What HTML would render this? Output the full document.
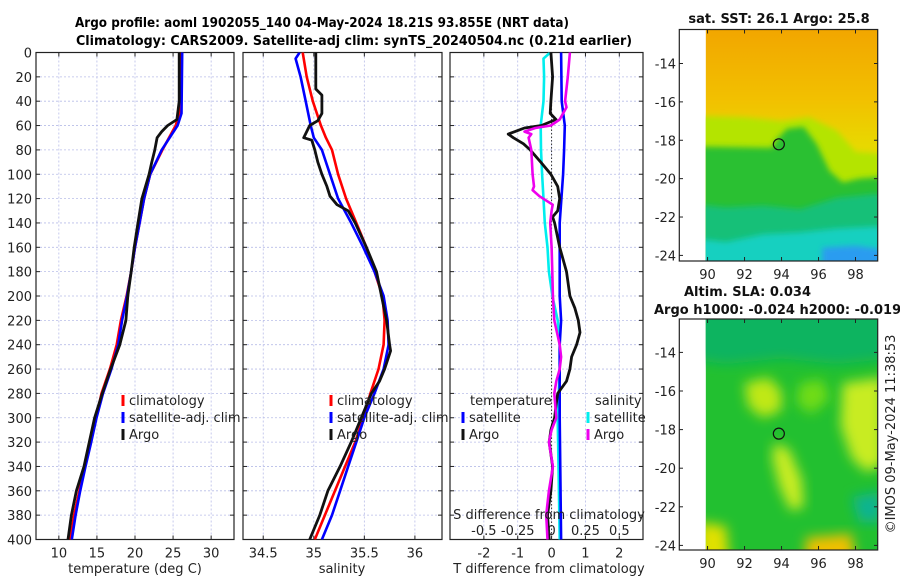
<!DOCTYPE html>
<html><head><meta charset="utf-8">
<style>
html,body{margin:0;padding:0;background:#fff;}
svg{display:block;font-family:"DejaVu Sans","Liberation Sans",sans-serif;}
</style></head>
<body>
<svg id="fig" width="900" height="580" viewBox="0 0 900 580" xmlns="http://www.w3.org/2000/svg">
<defs>
<clipPath id="c1"><rect x="36" y="52.5" width="198" height="487"/></clipPath>
<clipPath id="c2"><rect x="243" y="52.5" width="199" height="487"/></clipPath>
<clipPath id="c3"><rect x="450" y="52.5" width="193" height="487"/></clipPath>
<clipPath id="cm1"><rect x="705.7" y="29.5" width="172" height="231.5"/></clipPath>
<clipPath id="cm2"><rect x="705.7" y="319" width="172" height="231"/></clipPath>
<filter id="bl" x="-20%" y="-20%" width="140%" height="140%"><feGaussianBlur stdDeviation="3"/></filter>
<filter id="bl2" x="-30%" y="-30%" width="160%" height="160%"><feGaussianBlur stdDeviation="6"/></filter>
<linearGradient id="sstg" x1="0" y1="0" x2="0" y2="1">
<stop offset="0" stop-color="#f2a600"/><stop offset="0.3" stop-color="#f2c000"/><stop offset="0.5" stop-color="#e8d800"/><stop offset="1" stop-color="#e0e000"/>
</linearGradient>
</defs>
<g id="titles">
<text x="322" y="27" text-anchor="middle" font-weight="bold" font-size="13" textLength="494" lengthAdjust="spacingAndGlyphs">Argo profile: aoml 1902055_140 04-May-2024 18.21S 93.855E (NRT data)</text>
<text x="354" y="45" text-anchor="middle" font-weight="bold" font-size="13" textLength="556" lengthAdjust="spacingAndGlyphs">Climatology: CARS2009. Satellite-adj clim: synTS_20240504.nc (0.21d earlier)</text>
</g>
<g id="p1"></g><g id="p2"></g><g id="p3"></g>
<g id="maps"></g>
</svg>
<script>
const NS="http://www.w3.org/2000/svg";
// ---- data ----
const depthsT=[0,50,60,80,100,120,140,160,180,200,220,240,260,280,300,320,340,360,380,400];
const tempClim=[25.9,25.8,25.35,23.6,22.0,21.2,20.6,20.0,19.5,18.9,18.15,17.6,16.7,15.6,14.9,14.2,13.45,12.7,12.0,11.5];
const tempSat=[26.2,26.1,25.6,23.5,22.0,21.2,20.6,20.0,19.5,18.95,18.3,17.8,16.9,15.8,14.95,14.25,13.5,12.8,12.2,11.7];
const depthsArgoT=[0,40,55,60,65,70,80,90,100,120,140,160,180,200,220,240,260,280,300,320,340,360,380,400];
const tempArgo=[25.8,25.8,25.5,24.3,23.5,22.9,22.6,22.2,21.85,20.9,20.4,19.9,19.5,19.05,18.8,18.0,16.8,15.7,14.7,14.0,13.3,12.3,11.65,11.2];
const depthsS=[0,5,20,40,60,70,80,100,120,140,160,180,200,220,240,260,280,300,320,340,360,380,400];
const salClim=[34.89,34.9,34.93,34.99,35.07,35.12,35.18,35.24,35.32,35.42,35.52,35.6,35.68,35.7,35.69,35.64,35.56,35.49,35.41,35.31,35.21,35.11,35.01];
const salSat=[34.86,34.82,34.87,34.92,34.97,35.0,35.08,35.16,35.24,35.37,35.49,35.6,35.69,35.73,35.74,35.69,35.6,35.5,35.42,35.34,35.26,35.18,35.08];
const depthsArgoS=[0,30,35,50,56,60,65,70,72,80,90,100,110,118,125,130,140,160,180,200,220,240,245,260,270,280,300,320,340,360,380,400];
const salArgo=[35.02,35.02,35.08,35.08,35.04,34.96,34.93,34.9,34.98,35.01,35.04,35.08,35.13,35.16,35.23,35.34,35.41,35.52,35.62,35.67,35.72,35.75,35.76,35.7,35.65,35.57,35.47,35.37,35.26,35.14,35.06,34.96];
const depthsDT=[0,20,40,50,55,60,62,65,67,70,75,80,90,100,110,120,130,135,140,160,180,200,210,220,230,240,250,260,270,280,290,300,310,320,340,360,380,400];
const dTArgo=[-0.02,0.03,-0.02,-0.04,0.13,-0.3,-0.8,-1.08,-1.28,-1.13,-0.83,-0.63,-0.32,-0.02,0.18,0.24,0.18,0.03,0.09,0.24,0.44,0.54,0.69,0.79,0.84,0.74,0.59,0.54,0.44,0.18,0.13,0.09,-0.02,-0.07,0.03,-0.02,-0.12,-0.07];
const depthsDTs=[0,40,60,80,100,140,200,220,240,300,400];
const dTSat=[0.28,0.3,0.39,0.37,0.34,0.24,0.24,0.28,0.24,0.24,0.28];
const depthsDS=[0,5,20,40,60,80,100,120,140,160,180,200,220,240,260,300,400];
const dSSat=[-0.01,-0.06,-0.055,-0.06,-0.08,-0.078,-0.07,-0.06,-0.05,-0.03,-0.02,0.006,0.045,0.06,0.06,0.045,0.06];
const depthsDSA=[0,20,40,45,55,60,62,65,67,70,80,100,110,113,118,125,130,140,160,180,200,220,240,250,260,270,280,300,310,320,340,360,380,400];
const dSArgo=[0.135,0.12,0.1,0.11,0.06,-0.005,-0.12,-0.2,-0.15,-0.17,-0.15,-0.14,-0.13,-0.14,-0.09,0.008,0.0,-0.01,0.0,0.005,0.01,0.02,0.06,0.07,0.06,0.035,0.02,0.035,0.0,-0.02,0.01,-0.02,-0.04,-0.03];
const depthTicks=[0,20,40,60,80,100,120,140,160,180,200,220,240,260,280,300,320,340,360,380,400];
const tempTicks=[10,15,20,25,30];
const salTicks=[34.5,35,35.5,36];
const dTTicks=[-2,-1,0,1,2];
const dSTicks=[-0.5,-0.25,0,0.25,0.5];
const dSTickLabels=["-0.5","-0.25","0","0.25","0.5"];
const lonTicks=[90,92,94,96,98];
const latTicks=[-14,-16,-18,-20,-22,-24];
const argoLon=[93.855];
const argoLat=[-18.21];
// ---- scales ----
const Y0=52.5,Y1=539.5;
const yD=d=>Y0+(d/400)*(Y1-Y0);
const lin=(d0,d1,r0,r1)=>v=>r0+(v-d0)/(d1-d0)*(r1-r0);
const xT=lin(7,33,36,234);
const xS=lin(34.3,36.268,243,442);
const xdT=lin(-3,2.7,450,643);
const xdS=v=>xdT(0)+v*4*(xdT(1)-xdT(0));
const mapX=lin(89.9,99.2,705.7,877.7);
const mapY1=lin(-14,-24,63.5,255.4);
const mapY2=lin(-14,-24,352.4,545.4);
function el(tag,attrs,parent){const e=document.createElementNS(NS,tag);for(const k in attrs)e.setAttribute(k,attrs[k]);if(parent)parent.appendChild(e);return e;}
function txt(parent,x,y,s,anchor,size){const t=el('text',{x:x,y:y,'text-anchor':anchor||'middle','font-size':size||13,fill:'#222'},parent);t.textContent=s;return t;}
function line(parent,xs,ds,xf,color,w,clip,name){
  const p=xs.map((v,i)=>(i?'L':'M')+xf(v).toFixed(1)+','+yD(ds[i]).toFixed(1)).join('');
  const e=el('path',{d:p,fill:'none',stroke:color,'stroke-width':w||2.6,'stroke-linejoin':'round','clip-path':'url(#'+clip+')'},parent);
  
  
}
function frame(g,x0,x1,xticks,xf,xlabels,showY,name){
  
  
  xticks.forEach(v=>{el('line',{x1:xf(v),x2:xf(v),y1:Y0,y2:Y1,stroke:'#b8bde8','stroke-width':0.8,'stroke-dasharray':'2,2'},g);});
  depthTicks.forEach(d=>{el('line',{x1:x0,x2:x1,y1:yD(d),y2:yD(d),stroke:'#b8bde8','stroke-width':0.8,'stroke-dasharray':'2,2'},g);
    el('line',{x1:x0,x2:x0+4,y1:yD(d),y2:yD(d),stroke:'#222'},g);el('line',{x1:x1-4,x2:x1,y1:yD(d),y2:yD(d),stroke:'#222'},g);
    if(showY){const t=txt(g,x0-4,yD(d)+5,String(d),'end');}});
  xticks.forEach((v,i)=>{el('line',{x1:xf(v),x2:xf(v),y1:Y1,y2:Y1-4,stroke:'#222'},g);el('line',{x1:xf(v),x2:xf(v),y1:Y0,y2:Y0+4,stroke:'#222'},g);
    if(xlabels){const t=txt(g,xf(v),Y1+18,xlabels[i]);}});
  el('rect',{x:x0,y:Y0,width:x1-x0,height:Y1-Y0,fill:'none',stroke:'#222','stroke-width':1.2},g);
}
function legendItem(g,x,y,color,label,name){
  const m=el('rect',{x:x-1.5,y:y-9,width:3,height:11,fill:color},g);
  
  
  const t=txt(g,x+6,y+1,label,'start');
  
  
}
// panel 1
const g1=document.getElementById('p1');
frame(g1,36,234,tempTicks,xT,tempTicks.map(String),true,'temperature-panel');
line(g1,tempClim,depthsT,xT,'#ff0000',2.6,'c1','temp-climatology-line');
line(g1,tempSat,depthsT,xT,'#0000ff',2.6,'c1','temp-satellite-line');
line(g1,tempArgo,depthsArgoT,xT,'#111',2.8,'c1','temp-argo-line');
{const t=txt(g1,135,573,'temperature (deg C)');}
legendItem(g1,123,404,'#ff0000','climatology','legend-climatology');
legendItem(g1,123,421,'#0000ff','satellite-adj. clim','legend-satellite-adj');
legendItem(g1,123,438,'#111','Argo','legend-argo');
// panel 2
const g2=document.getElementById('p2');
frame(g2,243,442,salTicks,xS,salTicks.map(String),false,'salinity-panel');
line(g2,salClim,depthsS,xS,'#ff0000',2.6,'c2','sal-climatology-line');
line(g2,salSat,depthsS,xS,'#0000ff',2.6,'c2','sal-satellite-line');
line(g2,salArgo,depthsArgoS,xS,'#111',2.8,'c2','sal-argo-line');
{const t=txt(g2,342,573,'salinity');}
legendItem(g2,331,404,'#ff0000','climatology','legend-climatology-2');
legendItem(g2,331,421,'#0000ff','satellite-adj. clim','legend-satellite-adj-2');
legendItem(g2,331,438,'#111','Argo','legend-argo-2');
// panel 3
const g3=document.getElementById('p3');
frame(g3,450,643,dTTicks,xdT,dTTicks.map(String),false,'difference-panel');
el('line',{x1:xdT(0),x2:xdT(0),y1:Y0,y2:Y1,stroke:'#333','stroke-width':1,'stroke-dasharray':'1.5,2'},g3);
line(g3,dSSat,depthsDS,xdS,'#00eeee',2.6,'c3','sal-diff-satellite-line');
line(g3,dTSat,depthsDTs,xdT,'#0000ff',2.6,'c3','temp-diff-satellite-line');
line(g3,dTArgo,depthsDT,xdT,'#111',2.8,'c3','temp-diff-argo-line');
line(g3,dSArgo,depthsDSA,xdS,'#ee00ee',2.6,'c3','sal-diff-argo-line');
{const t=txt(g3,470,405,'temperature','start');}
legendItem(g3,463,421,'#0000ff','satellite','legend-temp-satellite');
legendItem(g3,463,438,'#111','Argo','legend-temp-argo');
{const t=txt(g3,595,405,'salinity','start');}
legendItem(g3,588,421,'#00eeee','satellite','legend-sal-satellite');
legendItem(g3,588,438,'#ee00ee','Argo','legend-sal-argo');
{const t=txt(g3,549,519,'S difference from climatology');}
dSTicks.forEach((v,i)=>{const t=txt(g3,xdS(v),535,dSTickLabels[i]);});
{const t=txt(g3,549,573,'T difference from climatology');}
// maps
const gm=document.getElementById('maps');
function P(pts,my){return pts.map(p=>mapX(p[0]).toFixed(1)+','+my(p[1]).toFixed(1)).join(' ');}
function poly(g,pts,my,fill,f){const e=el('polygon',{points:P(pts,my),fill:fill},g);if(f)e.setAttribute('filter','url(#'+f+')');return e;}
// map 1 SST
const m1=el('g',{'clip-path':'url(#cm1)'},gm);


el('rect',{x:705.7,y:29.5,width:172,height:231.5,fill:'url(#sstg)'},m1);
const B1=[[88,-12],[101,-12],[101,-25],[88,-25]];
poly(m1,[[88,-16.7],[92,-16.8],[94,-17.0],[95.5,-16.8],[97,-17.5],[98,-18.6],[101,-18.8],[101,-26],[88,-26]],mapY1,'#b4e400','bl');
poly(m1,[[88,-18.3],[93.5,-18.4],[93.7,-18.0],[94.3,-17.4],[95.2,-17.3],[95.9,-18.2],[96.6,-19.6],[97.3,-20.2],[98.2,-20.0],[101,-19.8],[101,-26],[88,-26]],mapY1,'#2cc030','bl');
poly(m1,[[88,-21.2],[91,-21.5],[93,-21.4],[95,-21.6],[97,-21.0],[99,-20.8],[101,-20.9],[101,-26],[88,-26]],mapY1,'#14c078','bl');
poly(m1,[[88,-23.0],[91,-23.3],[93,-22.9],[95,-22.8],[97,-22.6],[99,-22.5],[101,-22.6],[101,-26],[88,-26]],mapY1,'#18d0c0','bl');
poly(m1,[[96.2,-23.6],[98.0,-23.5],[99.5,-23.7],[99.5,-25],[96.2,-25]],mapY1,'#2c9cf0','bl');
el('rect',{x:679.3,y:29.5,width:198.4,height:231.5,fill:'none',stroke:'#222','stroke-width':1.2},gm);
el('circle',{cx:mapX(argoLon[0]),cy:mapY1(argoLat[0]),r:5.5,fill:'none',stroke:'#111','stroke-width':1.2},gm);
// map 2 SLA
const m2=el('g',{'clip-path':'url(#cm2)'},gm);


el('rect',{x:705.7,y:319,width:172,height:231,fill:'#22c030'},m2);
poly(m2,[[88,-11],[101,-11],[101,-14.2],[97,-14.6],[94,-14.3],[91,-14.6],[88,-14.2]],mapY2,'#10b460','bl2');
poly(m2,[[92,-15.6],[93.3,-15.3],[94.0,-16.0],[94.0,-17.0],[93.0,-17.4],[92.2,-16.8]],mapY2,'#c0e818','bl2');
poly(m2,[[93.6,-18.7],[94.4,-19.0],[95.1,-20.6],[95.2,-22.0],[94.5,-22.2],[93.9,-21.0],[93.5,-19.5]],mapY2,'#c8ec20','bl2');
poly(m2,[[97.3,-15.6],[99.5,-15.3],[99.5,-19.8],[98.6,-20.2],[97.8,-19.5],[97.2,-17.8]],mapY2,'#c8ec20','bl2');
poly(m2,[[95.0,-15.6],[96.2,-15.4],[96.6,-16.4],[95.6,-17.2],[94.8,-16.6]],mapY2,'#70dc18','bl2');
poly(m2,[[89.5,-22.8],[91.0,-23.0],[91.2,-25],[89.5,-25]],mapY2,'#e0e000','bl2');
poly(m2,[[95.3,-23.6],[97.8,-23.4],[98.0,-25],[95.3,-25]],mapY2,'#f0c000','bl2');
poly(m2,[[97.8,-21.5],[99.4,-21.2],[99.4,-22.8],[98.2,-22.8]],mapY2,'#10b490','bl2');
el('rect',{x:679.3,y:319,width:198.4,height:231,fill:'none',stroke:'#222','stroke-width':1.2},gm);
el('circle',{cx:mapX(argoLon[0]),cy:mapY2(argoLat[0]),r:5.5,fill:'none',stroke:'#111','stroke-width':1.2},gm);
// map ticks
[[mapY1,29.5,261],[mapY2,319,550]].forEach(([my,t,b])=>{
  latTicks.forEach(v=>{el('line',{x1:679.3,x2:683,y1:my(v),y2:my(v),stroke:'#222'},gm);el('line',{x1:874,x2:877.7,y1:my(v),y2:my(v),stroke:'#222'},gm);
    const tl=txt(gm,676,my(v)+5,String(v),'end');});
  lonTicks.forEach(v=>{el('line',{x1:mapX(v),x2:mapX(v),y1:b,y2:b-4,stroke:'#222'},gm);el('line',{x1:mapX(v),x2:mapX(v),y1:t,y2:t+4,stroke:'#222'},gm);
    const tl=txt(gm,mapX(v),b+18,String(v));});
});
{const t=txt(gm,779,23,'sat. SST: 26.1 Argo: 25.8');t.setAttribute('font-weight','bold');t.setAttribute('fill','#111');}
{const t=txt(gm,684,296,'Altim. SLA: 0.034','start');t.setAttribute('font-weight','bold');t.setAttribute('fill','#111');}
{const t=txt(gm,654,314,'Argo h1000: -0.024 h2000: -0.019','start');t.setAttribute('font-weight','bold');t.setAttribute('fill','#111');}
{const t=el('text',{x:0,y:0,'text-anchor':'middle','font-size':13,fill:'#222',transform:'translate(895,434) rotate(-90)'},gm);t.textContent='©IMOS 09-May-2024 11:38:53';}
</script>
</body></html>
